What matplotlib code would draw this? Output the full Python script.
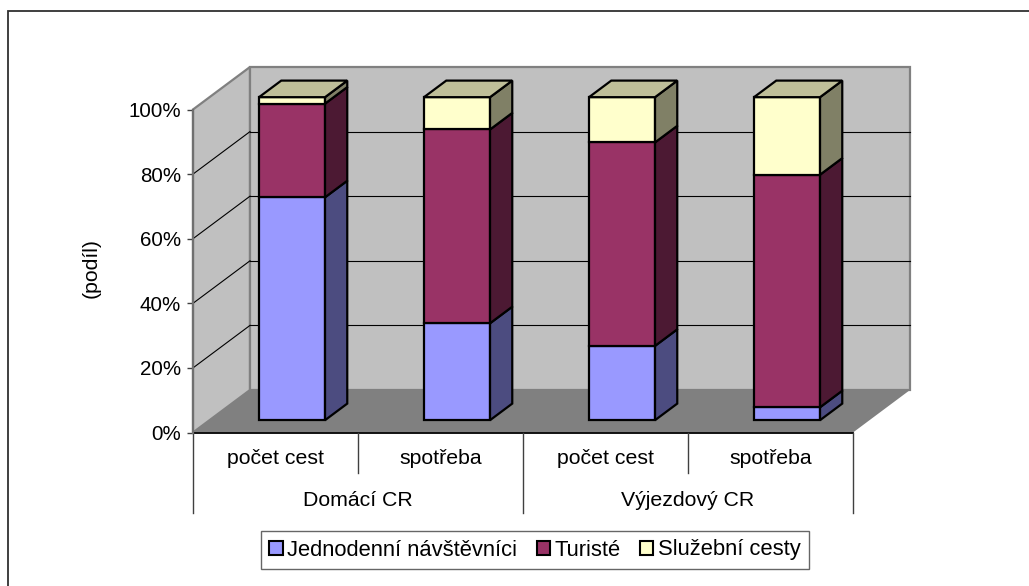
import matplotlib
matplotlib.use("Agg")
import matplotlib.pyplot as plt
from matplotlib.patches import Polygon, Patch, Rectangle

plt.rcParams['font.family'] = ['Liberation Sans', 'DejaVu Sans']

# ---- data ----
categories = ['počet cest', 'spotřeba', 'počet cest', 'spotřeba']
groups = ['Domácí CR', 'Výjezdový CR']
series_names = ['Jednodenní návštěvníci', 'Turisté', 'Služební cesty']
jednodenni = [69, 30, 23, 4]
turiste = [29, 60, 63, 72]
sluzebni = [2, 10, 14, 24]
yticks = [0, 20, 40, 60, 80, 100]
ylabel = '(podíl)'

# ---- styles ----
front_cols = ['#9999FF', '#993366', '#FFFFCC']
side_cols = ['#4C4C80', '#4C1933', '#808066']
top_cols = ['#7373BF', '#73264C', '#BFBF99']
W, H = 1029, 586
FS_TICK = 14.8
FS_CAT = 15.3
FS_LEG = 15.8

fig = plt.figure(figsize=(W / 100, H / 100), dpi=100)
ax = fig.add_axes([193 / W, (H - 432.5) / H, 660 / W, 323 / H])
ax.set_xlim(0, len(categories))
ax.set_ylim(0, 100)
ax.patch.set_visible(False)

DX = 57 / 165.0          # depth offset in category units
DY = 42.5 * 100 / 323.0  # depth offset in percent units
d0, d1 = 0.29, 0.68      # bar depth range
bw = 0.4


def P(x, y, d):
    return (x + d * DX, y + d * DY)


def poly(pts, fc, ec='none', lw=0, z=1):
    ax.add_patch(Polygon(pts, closed=True, facecolor=fc, edgecolor=ec,
                         linewidth=lw, zorder=z, clip_on=False,
                         joinstyle='miter'))


n = len(categories)
# floor
poly([P(0, 0, 0), P(n, 0, 0), P(n, 0, 1), P(0, 0, 1)], '#808080', z=0.5)
# left wall
poly([P(0, 0, 0), P(0, 100, 0), P(0, 100, 1), P(0, 0, 1)], '#C0C0C0',
     ec='#808080', lw=1.6, z=0.6)
# back wall
poly([P(0, 0, 1), P(n, 0, 1), P(n, 100, 1), P(0, 100, 1)], '#C0C0C0',
     ec='#808080', lw=1.6, z=0.6)
# gridlines
for t in yticks[1:-1]:
    a, b = P(0, t, 0), P(0, t, 1)
    ax.plot([a[0], b[0]], [a[1], b[1]], color='black', lw=0.8, zorder=1,
            clip_on=False)
    c = P(n, t, 1)
    ax.plot([b[0], c[0]], [b[1], c[1]], color='black', lw=0.8, zorder=1,
            clip_on=False)
# front floor edge
ax.plot([0, n], [0, 0], color='black', lw=1.3, zorder=2, clip_on=False)

# bars
data = [jednodenni, turiste, sluzebni]
for i in range(n):
    xl = i + 0.5 - bw / 2
    xr = i + 0.5 + bw / 2
    base = 0
    for s in range(3):
        v = data[s][i]
        y0, y1 = base, base + v
        z = 3 + i
        poly([P(xl, y0, d0), P(xr, y0, d0), P(xr, y1, d0), P(xl, y1, d0)],
             front_cols[s], ec='black', lw=1.6, z=z)
        poly([P(xr, y0, d0), P(xr, y0, d1), P(xr, y1, d1), P(xr, y1, d0)],
             side_cols[s], ec='black', lw=1.6, z=z)
        if s == 2:
            poly([P(xl, y1, d0), P(xr, y1, d0), P(xr, y1, d1), P(xl, y1, d1)],
                 top_cols[s], ec='black', lw=1.6, z=z)
        base = y1

# axes styling
for sp in ['top', 'right', 'bottom']:
    ax.spines[sp].set_visible(False)
ax.spines['left'].set_color('#707070')
ax.spines['left'].set_linewidth(1.6)
ax.spines['left'].set_zorder(2)
ax.set_xticks([])
ax.set_yticks(yticks)
ax.set_yticklabels([f'{t}%' for t in yticks], fontsize=FS_TICK)
ax.tick_params(axis='y', length=4.3, width=1, pad=4.3, color='#404040')
ax.set_ylabel(ylabel, fontsize=FS_CAT)
ax.yaxis.set_label_coords(-0.14, 0.509)

# category axis (two-level)
for x in [0, 2, 4]:
    ax.plot([x, x], [0, -25], color='#404040', lw=1, clip_on=False)
for x in [1, 3]:
    ax.plot([x, x], [0, -12.4], color='#404040', lw=1, clip_on=False)
for i, c in enumerate(categories):
    ax.text(i + 0.5, -7.9, c, ha='center', va='center', fontsize=FS_CAT)
for g, name in enumerate(groups):
    ax.text(2 * g + 1, -20.9, name, ha='center', va='center', fontsize=FS_CAT)

# outer border (only top/left visible in reference crop)
fig.patches.append(Rectangle((8 / W, -0.2), 1.2, 1 - 11 / H + 0.2,
                             transform=fig.transFigure, fill=False,
                             edgecolor='#303030', lw=1.3))

# legend
handles = [Patch(facecolor=front_cols[k], edgecolor='black', lw=1.5)
           for k in range(3)]
leg = fig.legend(handles, series_names, loc='center',
                 bbox_to_anchor=(535 / W, 1 - 550 / H), ncol=3,
                 fontsize=FS_LEG, frameon=True, fancybox=False,
                 handlelength=0.6, handleheight=0.6, handletextpad=0.2,
                 columnspacing=0.9, borderpad=0.4, borderaxespad=0)
leg.get_frame().set_edgecolor('#404040')
leg.get_frame().set_linewidth(1.0)

fig.savefig('out.png', dpi=100)
